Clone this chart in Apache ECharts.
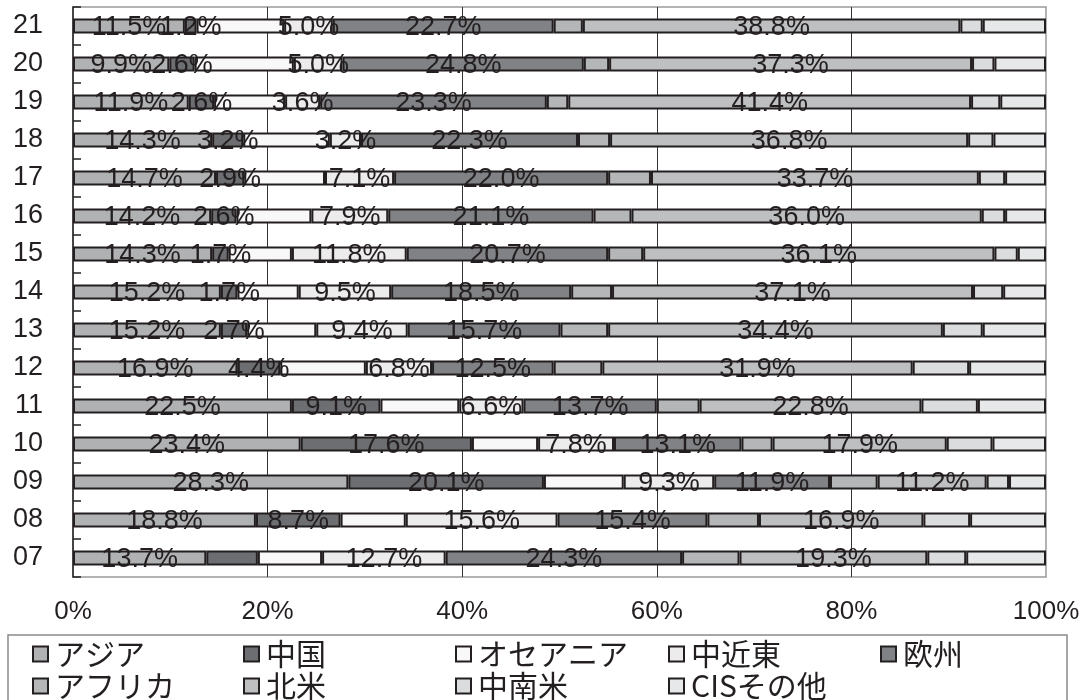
<!DOCTYPE html>
<html>
<head>
<meta charset="utf-8">
<script src="https://cdn.jsdelivr.net/npm/echarts@6/dist/echarts.min.js"></script>
<style>
  html, body { margin: 0; padding: 0; background: #fff; }
  #chart { width: 1086px; height: 700px; }
</style>
</head>
<body>
<div id="chart"></div>
<script>
// Years, bottom row first
const years = ['07', '08', '09', '10', '11', '12', '13', '14', '15', '16', '17', '18', '19', '20', '21'];

// Regional shares (%) per year
const asia       = [13.7, 18.8, 28.3, 23.4, 22.5, 16.9, 15.2, 15.2, 14.3, 14.2, 14.7, 14.3, 11.9, 9.9, 11.5];
const china      = [5.3, 8.7, 20.1, 17.6, 9.1, 4.4, 2.7, 1.7, 1.7, 2.6, 2.9, 3.2, 2.6, 2.6, 1.2];
const oceania    = [6.6, 6.7, 8.2, 6.8, 8.1, 8.8, 7.1, 6.3, 6.5, 7.7, 8.3, 8.9, 7.3, 10.2, 9.0];
const middleEast = [12.7, 15.6, 9.3, 7.8, 6.6, 6.8, 9.4, 9.5, 11.8, 7.9, 7.1, 3.2, 3.6, 5.0, 5.0];
const europe     = [24.3, 15.4, 11.9, 13.1, 13.7, 12.5, 15.7, 18.5, 20.7, 21.1, 22.0, 22.3, 23.3, 24.8, 22.7];
const africa     = [5.9, 5.3, 4.9, 3.2, 4.4, 5.0, 4.9, 4.2, 3.6, 3.9, 4.4, 3.3, 2.2, 2.6, 3.0];
const northAm    = [19.3, 16.9, 11.2, 17.9, 22.8, 31.9, 34.4, 37.1, 36.1, 36.0, 33.7, 36.8, 41.4, 37.3, 38.8];
const latinAm    = [4.0, 4.8, 2.3, 4.7, 5.8, 5.8, 4.1, 3.1, 2.4, 2.4, 2.7, 2.6, 3.0, 2.3, 2.3];
const cisOther   = [8.2, 7.8, 3.8, 5.5, 7.0, 7.9, 6.5, 4.4, 2.9, 4.2, 4.2, 5.4, 4.7, 5.3, 6.5];

// Axis tick labels
const xTicks = [0, 20, 40, 60, 80, 100];

// Series definitions: name, values, fill, whether values are printed
const seriesDefs = [
  { name: 'アジア',     data: asia,       color: '#b0b1b3', label: true },
  { name: '中国',       data: china,      color: '#6d6e71', label: true, hideAt: ['07'] },
  { name: 'オセアニア', data: oceania,    color: '#f8f8f8', label: false },
  { name: '中近東',     data: middleEast, color: '#ececed', label: true },
  { name: '欧州',       data: europe,     color: '#808285', label: true },
  { name: 'アフリカ',   data: africa,     color: '#b5b6b8', label: false },
  { name: '北米',       data: northAm,    color: '#bebfc1', label: true },
  { name: '中南米',     data: latinAm,    color: '#dbdcde', label: false },
  { name: 'CISその他',  data: cisOther,   color: '#e7e8e9', label: false }
];

// Legend columns (two rows)
const legendColumns = [
  { left: 27,  names: ['アジア', 'アフリカ'] },
  { left: 238, names: ['中国', '北米'] },
  { left: 450, names: ['オセアニア', '中南米'] },
  { left: 663, names: ['中近東', 'CISその他'] },
  { left: 875, names: ['欧州'] }
];

const INK = '#231f20';
const NUM_FONT = "'Liberation Sans', Arial, sans-serif";
const JP_FONT = "'Noto Sans CJK JP', 'Noto Sans', sans-serif";

const chart = echarts.init(document.getElementById('chart'), null, { renderer: 'canvas' });

const series = seriesDefs.map(def => ({
  name: def.name,
  type: 'bar',
  stack: 'total',
  barWidth: 15,
  itemStyle: { color: def.color, borderColor: INK, borderWidth: 2 },
  label: {
    show: def.label,
    position: 'inside',
    offset: [0, 2],
    color: INK,
    fontFamily: NUM_FONT,
    fontSize: 27,
    formatter: p => p.value.toFixed(1) + '%'
  },
  emphasis: { disabled: true },
  data: def.data.map((v, i) => {
    if (def.hideAt && def.hideAt.includes(years[i])) {
      return { value: v, label: { show: false } };
    }
    return v;
  })
}));

const legends = legendColumns.map(col => ({
  orient: 'vertical',
  left: col.left,
  top: 634,
  height: 80,
  itemWidth: 15,
  itemHeight: 15,
  itemGap: 2,
  icon: 'rect',
  selectedMode: false,
  itemStyle: { borderColor: INK, borderWidth: 2 },
  textStyle: { color: INK, fontFamily: JP_FONT, fontSize: 30, lineHeight: 30, padding: [0, 0, 0, 2] },
  data: col.names
}));

chart.setOption({
  animation: false,
  backgroundColor: '#ffffff',
  grid: {
    left: 73, right: 40, top: 7, bottom: 123,
    show: true, borderColor: '#9a9a9a', borderWidth: 1.5, backgroundColor: '#ffffff'
  },
  legend: legends,
  xAxis: {
    type: 'value',
    min: xTicks[0],
    max: xTicks[xTicks.length - 1],
    interval: xTicks[1] - xTicks[0],
    axisLine: { show: false },
    axisTick: { show: false },
    axisLabel: {
      color: INK, fontFamily: NUM_FONT, fontSize: 26, margin: 22,
      formatter: v => v + '%'
    },
    splitLine: { show: true, showMinLine: false, showMaxLine: false, lineStyle: { color: '#333333', width: 1 } }
  },
  yAxis: {
    type: 'category',
    data: years,
    axisLine: { show: true, lineStyle: { color: INK, width: 1.5 } },
    axisTick: { show: true, inside: true, length: 8, lineStyle: { color: INK, width: 1.5 } },
    axisLabel: { color: INK, fontFamily: NUM_FONT, fontSize: 27, margin: 30, interval: 0 },
    splitLine: { show: false }
  },
  graphic: [{
    type: 'rect',
    shape: { x: 8, y: 635, width: 1059, height: 80 },
    style: { fill: 'none', stroke: '#8a8a8a', lineWidth: 1.5 },
    silent: true,
    z: 0
  }],
  series: series
});
</script>
</body>
</html>
